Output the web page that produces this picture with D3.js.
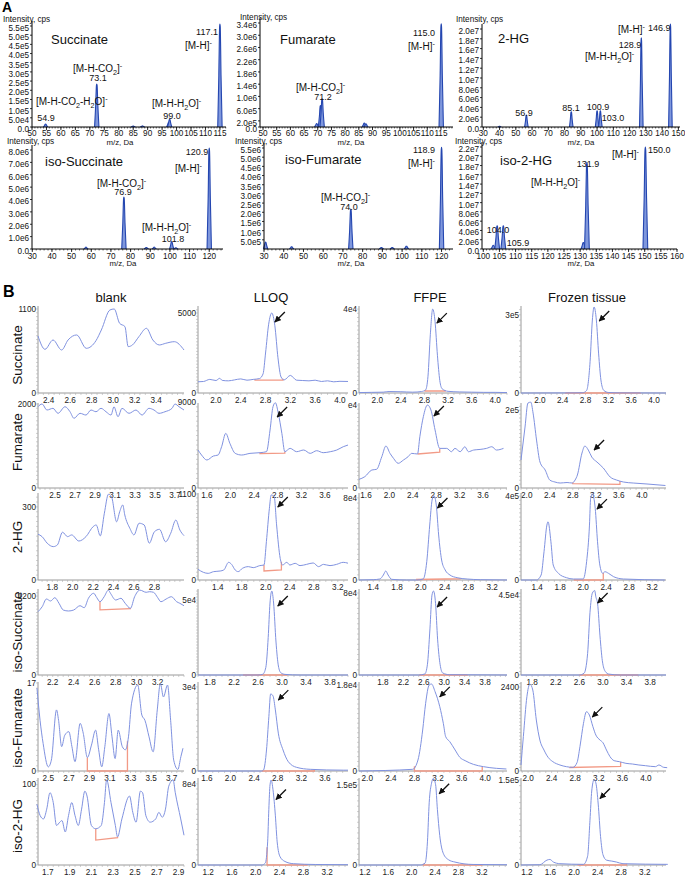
<!DOCTYPE html>
<html><head><meta charset="utf-8">
<script src="https://cdn.jsdelivr.net/npm/d3@7/dist/d3.min.js"></script>
<style>html,body{margin:0;padding:0;background:#fff;}svg{display:block;font-family:"Liberation Sans",Arial,sans-serif;}</style>
</head><body>
<svg id="fig" width="685" height="876" xmlns="http://www.w3.org/2000/svg"></svg>
<script>
// ===================== PANEL A DATA (MS/MS spectra) =====================
// [m/z position on axis, intensity (cps)]
const succinatePeaks = [[54.7,1.6e4],[72.4,2.34e5],[85.0,5e3],[88.2,6e3],[97.3,2.5e4],[97.6,4.2e4],[115.0,5.61e5]];
const fumaratePeaks  = [[69.6,1.1e5],[71.0,7.0e5],[71.6,9.2e5],[87.0,1.3e5],[87.6,1.0e5],[115.1,3.37e6]];
const hgPeaks        = [[40.0,1.5e5],[56.5,2.45e6],[84.1,3.1e6],[100.0,3.3e6],[102.0,3.3e6],[127.2,1.82e7],[145.1,2.1e7]];
const isoSuccPeaks   = [[57.3,1.5e5],[76.6,4.2e6],[88.0,1.2e5],[92.0,1.5e5],[100.9,6.0e5],[103.0,1.0e5],[120.0,8.15e6]];
const isoFumPeaks    = [[30.8,3.8e5],[44.0,1.2e5],[74.0,2.17e6],[89.5,8e4],[95.0,8e4],[102.2,1.5e5],[120.0,5.54e6]];
const isoHgPeaks     = [[103.1,8e5],[104.3,5.0e6],[106.2,5.0e6],[131.0,1.4e6],[132.1,1.87e7],[150.2,2.2e7]];

const succXTicks = [50,55,60,65,70,75,80,85,90,95,100,105,110,115];
const fumXTicks  = [50,55,60,65,70,75,80,85,90,95,100,105,110,115];
const hgXTicks   = [30,40,50,60,70,80,90,100,110,120,130,140,150];
const isoSuccXTicks = [30,40,50,60,70,80,90,100,110,120];
const isoFumXTicks  = [30,40,50,60,70,80,90,100,110,120];
const isoHgXTicks   = [100,105,110,115,120,125,130,135,140,145,150,155,160];

const succYTicks = [0,5e4,1e5,1.5e5,2e5,2.5e5,3e5,3.5e5,4e5,4.5e5,5e5,5.5e5];
const fumYTicks  = [0,2e5,6e5,1e6,1.4e6,1.8e6,2.2e6,2.6e6,3.0e6,3.4e6];
const hgYTicks   = [0,2e6,4e6,6e6,8e6,1e7,1.2e7,1.4e7,1.6e7,1.8e7,2e7];
const isoSuccYTicks = [0,1e6,2e6,3e6,4e6,5e6,6e6,7e6,8e6];
const isoFumYTicks  = [5e5,1e6,1.5e6,2e6,2.5e6,3e6,3.5e6,4e6,4.5e6,5e6,5.5e6];
const isoHgYTicks   = [0,2e6,4e6,6e6,8e6,1e7,1.2e7,1.4e7,1.6e7,1.8e7,2e7,2.2e7];

const msXDomains = [[50,117.1],[48.9,119.4],[29.2,151],[29.85,127],[30,125.8],[99.6,160]];
const msYMax = [5.5e5,3.4e6,2e7,8e6,5.5e6,2.2e7];

// annotation texts: [markup, x, y, size, anchor]  (_ = subscript, ^ = superscript)
const msAnnotations = [
 ["Succinate",51,44,13,"start"],["[M-H-CO_2]^-",73,72,10,"start"],["73.1",98,81,9,"middle"],
 ["[M-H-CO_2-H_2O]^-",36,105,10,"start"],["54.9",46,121,9,"middle"],["[M-H-H_2O]^-",152,107,10,"start"],
 ["99.0",172,119,9,"middle"],["117.1",207,35,9,"middle"],["[M-H]^-",185,49,10,"start"],
 ["Fumarate",280,44,13,"start"],["[M-H-CO_2]^-",296,91,10,"start"],["71.2",323,100,9,"middle"],
 ["115.0",424,36,9,"middle"],["[M-H]^-",408,50,10,"start"],
 ["2-HG",498,43,13,"start"],["56.9",524,116,9,"middle"],["85.1",571,111,9,"middle"],["100.9",598,110,9,"middle"],
 ["103.0",613,121,9,"middle"],["128.9",630,48,9,"middle"],["[M-H-H_2O]^-",585,60,10,"start"],
 ["[M-H]^-",618,33,10,"start"],["146.9",648,31,9,"start"],
 ["iso-Succinate",45,166,13,"start"],["[M-H-CO_2]^-",97,187,10,"start"],["76.9",123,195,9,"middle"],
 ["[M-H-H_2O]^-",142,231,10,"start"],["101.8",173,242,9,"middle"],["120.9",197,155,9,"middle"],["[M-H]^-",175,172,10,"start"],
 ["iso-Fumarate",285,164,13,"start"],["[M-H-CO_2]^-",321,201,10,"start"],["74.0",349,210,9,"middle"],
 ["118.9",424,153,9,"middle"],["[M-H]^-",408,167,10,"start"],
 ["iso-2-HG",500,165,13,"start"],["104.0",498,233,9,"middle"],["105.9",518,246,9,"middle"],["131.9",588,167,9,"middle"],
 ["[M-H-H_2O]^-",531,186,10,"start"],["[M-H]^-",612,158,10,"start"],["150.0",648,153,9,"start"]
];

// ===================== PANEL B DATA (chromatograms) =====================
const rowNames = ["Succinate","Fumarate","2-HG","iso-Succinate","iso-Fumarate","iso-2-HG"];
const colNames = ["blank","LLOQ","FFPE","Frozen tissue"];

// [retention time (min), intensity]
const succ_blank = [[2.30,747],[2.365,572],[2.44,694],[2.52,563],[2.58,694],[2.66,760],[2.75,585],[2.84,685],[2.89,825],[2.97,1087],[3.01,1100],[3.06,913],[3.11,869],[3.14,607],[3.18,629],[3.24,738],[3.31,847],[3.37,694],[3.43,629],[3.49,651],[3.57,672],[3.66,563]];
const succ_lloq = [[1.71,700],[1.80,720],[1.90,850],[2.0,780],[2.06,917],[2.1,790],[2.2,760],[2.3,820],[2.4,880],[2.5,800],[2.6,850],[2.7,900],[2.76,1200],[2.80,2500],[2.85,4300],[2.90,5000],[2.95,4200],[3.00,2200],[3.05,1000],[3.10,820],[3.2,1100],[3.3,800],[3.4,780],[3.5,760],[3.6,800],[3.7,720],[3.8,760],[3.9,700],[4.0,730],[4.13,720]];
const succ_ffpe = [[1.69,200],[1.9,300],[2.1,400],[2.2,700],[2.4,600],[2.6,400],[2.75,700],[2.82,1500],[2.86,8000],[2.90,28000],[2.94,40000],[2.98,34000],[3.02,18000],[3.06,6000],[3.10,2000],[3.2,800],[3.4,500],[3.6,400],[3.8,300],[4.0,300],[4.2,200]];
const succ_frozen = [[1.67,0],[2.6,500],[2.75,1000],[2.82,10000],[2.88,120000],[2.92,280000],[2.95,330000],[2.99,280000],[3.03,150000],[3.07,50000],[3.12,10000],[3.2,2000],[3.4,500],[4.21,0]];

const fum_blank = [[2.33,1935],[2.37,2000],[2.42,1857],[2.48,1897],[2.53,1778],[2.60,1935],[2.65,1816],[2.69,1659],[2.75,1778],[2.81,1737],[2.86,1857],[2.91,1816],[2.96,1897],[3.01,1816],[3.06,1737],[3.09,1935],[3.13,1697],[3.17,1897],[3.24,1778],[3.31,1857],[3.37,1737],[3.44,1897],[3.49,1857],[3.54,1778],[3.60,1816],[3.67,1897],[3.70,2000],[3.74,1935],[3.79,1857]];
const fum_lloq = [[1.45,3979],[1.51,3455],[1.60,2932],[1.71,3350],[1.79,3455],[1.85,4327],[1.92,5723],[1.99,4676],[2.08,3629],[2.19,3455],[2.33,3629],[2.50,3699],[2.61,3804],[2.67,6073],[2.72,8516],[2.76,8935],[2.81,7817],[2.87,5723],[2.92,3804],[3.01,4153],[3.12,3804],[3.24,3979],[3.35,3629],[3.46,3909],[3.57,3699],[3.69,3804],[3.80,3979],[3.91,4327],[3.99,4500]];
const fum_ffpe = [[1.48,4176],[1.58,5462],[1.70,8676],[1.78,9000],[1.87,15100],[1.94,20244],[2.01,16700],[2.07,14300],[2.15,11900],[2.24,13500],[2.32,15100],[2.38,16700],[2.48,16400],[2.52,24700],[2.58,34400],[2.65,40000],[2.71,37600],[2.78,28000],[2.86,19100],[2.98,19100],[3.06,17500],[3.12,19100],[3.21,17500],[3.29,19900],[3.35,17500],[3.44,18300],[3.55,18600],[3.66,19100],[3.75,19900],[3.83,18300],[3.95,19100]];
const fum_frozen = [[1.90,71900],[1.97,156700],[2.02,218300],[2.07,220800],[2.11,192600],[2.17,123300],[2.23,66800],[2.32,46200],[2.40,20500],[2.49,15400],[2.58,12800],[2.70,14100],[2.79,12800],[2.84,20500],[2.88,33400],[2.96,89900],[3.01,107900],[3.07,97600],[3.13,79600],[3.22,66800],[3.33,51400],[3.45,28200],[3.56,20500],[3.68,15400],[3.85,12800],[4.09,10300],[4.41,6400]];

const hg_blank = [[1.66,188],[1.70,178],[1.75,151],[1.81,137],[1.85,144],[1.90,196],[1.95,178],[1.99,185],[2.06,160],[2.13,178],[2.20,219],[2.23,226],[2.27,181],[2.31,274],[2.35,352],[2.38,342],[2.43,239],[2.46,280],[2.49,308],[2.51,267],[2.56,212],[2.60,185],[2.65,233],[2.70,226],[2.75,151],[2.80,198],[2.85,208],[2.91,157],[2.96,192],[3.01,246],[3.05,205],[3.09,182]];
const hg_lloq = [[1.07,137],[1.16,98],[1.24,85],[1.33,107],[1.44,115],[1.50,128],[1.58,226],[1.63,200],[1.69,128],[1.74,107],[1.81,149],[1.91,171],[1.99,158],[2.10,184],[2.17,192],[2.21,491],[2.26,917],[2.29,1088],[2.34,1067],[2.38,704],[2.44,277],[2.48,192],[2.55,226],[2.60,192],[2.69,213],[2.77,184],[2.88,200],[2.99,218],[3.08,171],[3.16,200],[3.27,184],[3.38,200],[3.49,226],[3.57,215]];
const hg_ffpe = [[1.16,0],[1.40,300],[1.51,975],[1.57,4875],[1.61,8775],[1.65,4875],[1.71,650],[1.96,0],[2.13,0],[2.24,975],[2.30,17900],[2.35,53600],[2.39,78000],[2.42,82200],[2.46,73100],[2.50,43900],[2.55,19500],[2.61,9750],[2.69,4875],[2.81,2250],[2.98,975],[3.20,300],[3.65,0]];
const hg_frozen = [[1.12,0],[1.39,0],[1.47,23800],[1.52,134800],[1.57,261900],[1.59,277600],[1.64,182400],[1.68,71400],[1.77,31900],[1.91,11000],[2.03,4762],[2.20,4762],[2.26,87100],[2.31,261900],[2.33,389000],[2.36,410000],[2.41,341400],[2.45,182400],[2.49,71400],[2.54,31900],[2.58,39500],[2.64,31900],[2.73,15700],[2.90,4762],[3.62,0]];

const isucc_blank = [[2.06,962],[2.10,1038],[2.14,1155],[2.18,1125],[2.22,1175],[2.26,1090],[2.30,988],[2.35,973],[2.40,988],[2.46,1053],[2.50,1023],[2.54,1166],[2.59,1242],[2.62,1175],[2.65,1114],[2.69,1190],[2.73,1290],[2.75,1242],[2.80,1140],[2.85,1166],[2.89,1090],[2.94,1014],[2.98,1190],[3.03,1290],[3.09,1257],[3.12,1266],[3.16,1257],[3.20,1175],[3.23,1114],[3.28,1155],[3.33,1190],[3.38,1114],[3.41,1090],[3.45,1053]];
const isucc_lloq = [[1.6,0],[2.6,0],[2.68,500],[2.73,5000],[2.77,25000],[2.80,48000],[2.83,56000],[2.86,48000],[2.90,22000],[2.94,6000],[2.98,1500],[3.05,400],[3.3,0],[4.1,0]];
const isucc_ffpe = [[1.33,0],[2.5,0],[2.62,1000],[2.67,10000],[2.72,45000],[2.76,78000],[2.79,82000],[2.83,70000],[2.87,35000],[2.92,10000],[2.97,2000],[3.1,300],[4.23,0]];
const isucc_frozen = [[1.61,0],[2.6,0],[2.68,1000],[2.74,12000],[2.78,35000],[2.82,46000],[2.86,47500],[2.88,44000],[2.91,40000],[2.95,22000],[2.99,8000],[3.04,2000],[3.1,500],[3.3,0],[4.07,0]];

const ifum_blank = [[2.39,16.0],[2.42,9.8],[2.45,5.3],[2.50,0.8],[2.53,2.1],[2.58,11.8],[2.60,9.8],[2.63,4.7],[2.66,6.9],[2.70,7.6],[2.73,4.7],[2.76,1.8],[2.81,9.2],[2.84,7.3],[2.88,2.6],[2.92,5.0],[2.96,7.9],[2.99,4.1],[3.02,0.8],[3.05,4.7],[3.09,11.1],[3.12,6.6],[3.15,2.4],[3.18,7.9],[3.22,4.7],[3.25,4.1],[3.28,6.6],[3.31,13.1],[3.37,16.6],[3.41,10.8],[3.44,9.8],[3.48,6.6],[3.52,3.7],[3.56,11.8],[3.59,16.9],[3.62,14.3],[3.66,16.6],[3.69,9.8],[3.72,2.1],[3.76,0.3],[3.79,2.8],[3.81,4.4]];
const ifum_lloq = [[1.45,0],[2.53,0],[2.56,357],[2.61,7500],[2.65,19400],[2.68,27500],[2.72,26800],[2.76,21800],[2.81,13500],[2.89,7500],[2.98,3300],[3.12,1300],[3.35,600],[3.91,300],[3.99,300]];
const ifum_ffpe = [[1.86,0],[2.77,350],[2.86,2300],[2.94,8570],[2.99,14150],[3.05,17980],[3.09,18190],[3.15,16590],[3.23,13450],[3.29,9970],[3.33,7180],[3.40,6130],[3.49,4390],[3.57,2860],[3.66,2160],[3.80,1390],[3.97,906],[4.19,558],[4.36,418]];
const ifum_frozen = [[1.88,172],[1.92,982],[1.98,2125],[2.03,2487],[2.08,2316],[2.14,1458],[2.20,886],[2.27,600],[2.34,391],[2.42,267],[2.54,172],[2.65,124],[2.76,105],[2.83,238],[2.88,696],[2.94,1363],[2.99,1696],[3.04,1601],[3.10,1267],[3.15,1029],[3.22,886],[3.27,810],[3.33,600],[3.39,410],[3.46,295],[3.55,267],[3.66,219],[3.77,200],[3.88,172],[3.99,152],[4.16,124],[4.22,172],[4.30,105],[4.36,95]];

const i2hg_blank = [[1.60,75.6],[1.63,61.4],[1.66,57.3],[1.69,69.5],[1.72,89.9],[1.75,77.7],[1.78,49.2],[1.81,53.3],[1.83,55.3],[1.86,41.1],[1.89,61.4],[1.92,77.7],[1.95,61.4],[1.98,49.2],[2.01,69.5],[2.04,91.9],[2.06,85.8],[2.10,49.2],[2.14,45.1],[2.19,49.2],[2.22,77.7],[2.24,106],[2.28,77.7],[2.32,49.2],[2.34,35.0],[2.38,57.3],[2.45,85.8],[2.48,65.5],[2.51,53.3],[2.55,91.9],[2.57,89.9],[2.60,61.4],[2.64,53.3],[2.69,57.3],[2.72,65.5],[2.75,59.4],[2.78,69.5],[2.81,98.0],[2.85,106],[2.87,89.9],[2.92,57.3],[2.95,37.0]];
const i2hg_lloq = [[1.03,0],[2.10,0],[2.16,1900],[2.20,22800],[2.22,54900],[2.24,79000],[2.26,83800],[2.29,74200],[2.33,48500],[2.36,22800],[2.41,8000],[2.49,3500],[2.63,1300],[3.0,500],[3.55,300]];
const i2hg_ffpe = [[1.10,0],[2.15,0],[2.23,3660],[2.27,43300],[2.30,116500],[2.34,153100],[2.37,162300],[2.41,150100],[2.44,104300],[2.48,55500],[2.54,22000],[2.63,9800],[2.74,5500],[3.05,1000],[3.63,500]];
const i2hg_frozen = [[1.10,0],[1.42,500],[1.54,8600],[1.59,9800],[1.65,5200],[1.76,2300],[2.16,1150],[2.23,15500],[2.27,78800],[2.30,130500],[2.34,150700],[2.37,144900],[2.41,107500],[2.45,50000],[2.49,18400],[2.55,8600],[2.64,6900],[2.72,5200],[2.83,2300],[3.59,1150]];

const chromXDomains = [
 [[2.30,3.66],[1.71,4.13],[1.69,4.20],[1.67,4.21]],
 [[2.33,3.79],[1.45,3.99],[1.48,4.01],[1.90,4.42]],
 [[1.66,3.09],[1.07,3.57],[1.16,3.65],[1.12,3.64]],
 [[2.06,3.45],[1.60,4.10],[1.33,4.23],[1.61,4.07]],
 [[2.40,3.82],[1.45,3.99],[1.86,4.37],[1.88,4.34]],
 [[1.61,2.95],[1.03,3.55],[1.10,3.63],[1.10,3.56]]
];
const chromYMax = [
 [1126,5375,41000,330000],
 [2000,8800,40500,216000],
 [353,1100,83850,410000],
 [1292,56700,83000,47800],
 [17,31400,18400,2517],
 [107,84800,161000,151700]
];
const chromYLabelVal = [[1100,5000,40000,300000],[2000,9000,40000,200000],[300,1100,80000,400000],[1200,50000,80000,45000],[17,30000,18000,2400],[100,80000,150000,150000]];
const chromYLabelTxt = [["1100","5000","4e4","3e5"],["2000","9000","e4","2e5"],["300","1100","8e4","4e5"],["1200","5e4","8e4","4.5e4"],["17","3e4","1.8e4","2400"],["100","8e4","1.5e5","1.5e5"]];
const chromXTicks = [
 [[2.4,2.6,2.8,3.0,3.2,3.4],[2.0,2.4,2.8,3.2,3.6,4.0],[2.0,2.4,2.8,3.2,3.6,4.0],[2.0,2.4,2.8,3.2,3.6,4.0]],
 [[2.5,2.7,2.9,3.1,3.3,3.5,3.7],[1.6,2.0,2.4,2.8,3.2,3.6],[1.6,2.0,2.4,2.8,3.2,3.6],[2.0,2.4,2.8,3.2,3.6,4.0]],
 [[1.8,2.0,2.2,2.4,2.6,2.8],[1.4,1.8,2.2,2.6,3.0,3.4],[1.4,1.8,2.2,2.6,3.0,3.4],[1.4,1.8,2.2,2.6,3.0,3.4]],
 [[2.2,2.4,2.6,2.8,3.0,3.2],[1.8,2.2,2.6,3.0,3.4,3.8],[1.8,2.2,2.6,3.0,3.4,3.8],[1.8,2.2,2.6,3.0,3.4,3.8]],
 [[2.5,2.7,2.9,3.1,3.3,3.5,3.7],[1.6,2.0,2.4,2.8,3.2,3.6],[2.0,2.4,2.8,3.2,3.6,4.0],[2.0,2.4,2.8,3.2,3.6,4.0]],
 [[1.7,1.9,2.1,2.3,2.5,2.7,2.9],[1.2,1.6,2.0,2.4,2.8,3.2],[1.2,1.6,2.0,2.4,2.8,3.2],[1.2,1.6,2.0,2.4,2.8,3.2]]
];
// tick labels as printed by the software on the 2-HG row (LLOQ, FFPE, Frozen)
const hgRowTickLabels = ["1.4","1.8","2.0","2.4","2.8","3.2"];
// integration baselines [t1, level1, t2, level2]
const chromBaselines = [
 [null,[2.63,800,3.08,810],[2.81,950,3.15,950],[2.45,0,3.76,0]],
 [null,[2.50,3600,2.92,3650],[2.48,16400,2.86,17300],[2.80,11000,3.62,9500]],
 [null,[2.17,115,2.46,128],[2.13,500,2.86,1200],[2.05,0,2.55,0]],
 [[2.65,990,2.94,1010],[2.35,0,3.08,0],[2.52,0,3.45,0],[2.60,0,3.60,0]],
 [[2.88,0,3.27,0],[2.53,0,3.42,0],[2.80,0,3.95,0],[2.71,100,3.57,130]],
 [[2.14,31,2.34,34],[2.19,0,2.86,0],[2.20,0,3.20,0],[2.07,0,2.89,0]]
];
// arrow tips [t, intensity]
const arrowTips = [
 [null,[2.95,4440],[3.01,33300],[3.04,276000]],
 [null,[2.79,7430],[2.76,34700],[3.17,97600]],
 [null,[2.40,934],[2.48,70200],[2.44,338000]],
 [null,[2.93,46000],[2.86,66400],[2.91,40500]],
 [null,[2.81,25300],[3.23,15500],[3.09,1540]],
 [null,[2.34,64600],[2.47,133500],[2.44,117200]]
];
const chromTraces = [
 [succ_blank,succ_lloq,succ_ffpe,succ_frozen],
 [fum_blank,fum_lloq,fum_ffpe,fum_frozen],
 [hg_blank,hg_lloq,hg_ffpe,hg_frozen],
 [isucc_blank,isucc_lloq,isucc_ffpe,isucc_frozen],
 [ifum_blank,ifum_lloq,ifum_ffpe,ifum_frozen],
 [i2hg_blank,i2hg_lloq,i2hg_ffpe,i2hg_frozen]
];

// ===================== LAYOUT / STYLE =====================
const svg = d3.select("#fig");
const msLayout = [
 {xr:[32,226], base:127, top:26, hw:2.2, tx:3,   ty:22,  mzx:120, mzy:144.5, xly:136, peaks:succinatePeaks, xt:succXTicks, yt:succYTicks},
 {xr:[260,453],base:127, top:23, hw:2.2, tx:240, ty:20,  mzx:351, mzy:144.5, xly:136, peaks:fumaratePeaks,  xt:fumXTicks,  yt:fumYTicks},
 {xr:[482,680],base:127, top:29, hw:1.8, tx:456, ty:22,  mzx:581, mzy:144.5, xly:136, peaks:hgPeaks,        xt:hgXTicks,   yt:hgYTicks},
 {xr:[32,223], base:249, top:150,hw:2.2, tx:7,   ty:144, mzx:123, mzy:266, xly:258.5, peaks:isoSuccPeaks,   xt:isoSuccXTicks, yt:isoSuccYTicks},
 {xr:[264,453],base:249, top:148,hw:2.2, tx:235, ty:144, mzx:351, mzy:266, xly:258.5, peaks:isoFumPeaks,    xt:isoFumXTicks,  yt:isoFumYTicks},
 {xr:[482,677],base:249, top:147,hw:2.4, tx:455, ty:144, mzx:581, mzy:266, xly:258.5, peaks:isoHgPeaks,     xt:isoHgXTicks,   yt:isoHgYTicks}
];
const colX = [[38,184],[198,348],[359,507],[521,666]];
const rowY = [[307,393],[404,488],[494,580],[590,675],[683,771],[779,865]];
const colHeadX = [111,271,430,587];
const rowLabelY = [355,442,537,632,728,826];

function sciFmt(v){
  if (v === 0) return "0.0";
  const e = Math.floor(Math.log10(v) + 1e-9);
  return (v / Math.pow(10, e)).toFixed(1) + "e" + e;
}
function rich(g, str, x, y, fs, anchor){
  const t = g.append("text").attr("x",x).attr("y",y).attr("font-size",fs)
    .attr("text-anchor",anchor||"start").attr("fill","#111");
  let buf = "", pend = 0;
  const add = (txt, size, dy) => {
    const s = t.append("tspan").text(txt);
    if (size) s.attr("font-size", size);
    const d = dy + pend; if (d) s.attr("dy", d); pend = 0;
  };
  const flush = () => { if (buf) { add(buf, null, 0); buf = ""; } };
  for (let i = 0; i < str.length; i++){
    const c = str[i];
    if (c === "_" || c === "^"){
      flush();
      const ch = str[++i];
      if (c === "_"){ add(ch, fs*0.72, fs*0.3); pend = -fs*0.3; }
      else { add(ch, fs*0.72, -fs*0.42); pend = fs*0.42; }
    } else buf += c;
  }
  flush();
}

svg.append("text").attr("x",2).attr("y",12).attr("font-size",14).attr("font-weight","bold").text("A");
svg.append("text").attr("x",3).attr("y",297).attr("font-size",16).attr("font-weight","bold").text("B");

// ---------- Panel A ----------
msLayout.forEach((L, i) => {
  const g = svg.append("g");
  const x = d3.scaleLinear().domain(msXDomains[i]).range(L.xr);
  const y = d3.scaleLinear().domain([0, msYMax[i]]).range([L.base, L.top]);
  const line = d3.line().curve(d3.curveMonotoneX);
  L.peaks.forEach(([mz, I]) => {
    const px = x(mz), py = y(I), h = L.base - py, w = L.hw;
    const pts = [[px-w,L.base],[px-w*0.5,L.base-h*0.5],[px-w*0.15,py+h*0.03],[px,py],[px+w*0.15,py+h*0.03],[px+w*0.5,L.base-h*0.5],[px+w,L.base]];
    g.append("path").attr("d", line(pts)).attr("fill","#7f97dc").attr("stroke","#2446b0").attr("stroke-width",1.1);
  });
  g.append("line").attr("x1",L.xr[0]).attr("x2",L.xr[0]).attr("y1",L.base).attr("y2",L.top-5).attr("stroke","#000").attr("stroke-width",1);
  g.append("line").attr("x1",L.xr[0]).attr("x2",L.xr[1]).attr("y1",L.base).attr("y2",L.base).attr("stroke","#000").attr("stroke-width",1);
  x.ticks(60).forEach(v => {
    g.append("line").attr("x1",x(v)).attr("x2",x(v)).attr("y1",L.base).attr("y2",L.base+1.5).attr("stroke","#000").attr("stroke-width",0.6);
  });
  L.xt.forEach(v => {
    g.append("line").attr("x1",x(v)).attr("x2",x(v)).attr("y1",L.base).attr("y2",L.base+3).attr("stroke","#000").attr("stroke-width",0.8);
    g.append("text").attr("x",x(v)).attr("y",L.xly).attr("font-size",8.2).attr("text-anchor","middle").attr("fill","#111").text(v);
  });
  L.yt.forEach(v => {
    g.append("line").attr("x1",L.xr[0]-2).attr("x2",L.xr[0]).attr("y1",y(v)).attr("y2",y(v)).attr("stroke","#000").attr("stroke-width",0.8);
    g.append("text").attr("x",L.xr[0]-3).attr("y",y(v)+2).attr("dy","0.35em").attr("font-size",8.2).attr("text-anchor","end").attr("fill","#111").text(sciFmt(v));
  });
  g.append("text").attr("x",L.tx).attr("y",L.ty).attr("font-size",8.2).attr("fill","#111").text("Intensity, cps");
  g.append("text").attr("x",L.mzx).attr("y",L.mzy).attr("font-size",7.8).attr("text-anchor","middle").attr("fill","#111").text("m/z, Da");
});
const annG = svg.append("g");
msAnnotations.forEach(a => rich(annG, a[0], a[1], a[2], a[3], a[4]));

// ---------- Panel B ----------
colNames.forEach((n, c) => {
  svg.append("text").attr("x",colHeadX[c]).attr("y",302).attr("font-size",13).attr("text-anchor","middle").attr("fill","#111").text(n);
});
rowNames.forEach((n, r) => {
  svg.append("text").attr("transform",`translate(22,${rowLabelY[r]}) rotate(-90)`).attr("font-size",13.5)
    .attr("text-anchor","middle").attr("fill","#111").text(n);
});

function interp(tr, t){
  if (t <= tr[0][0]) return tr[0][1];
  for (let k = 1; k < tr.length; k++){
    if (t <= tr[k][0]){
      const [t0,v0] = tr[k-1], [t1,v1] = tr[k];
      return v0 + (v1 - v0) * (t - t0) / (t1 - t0);
    }
  }
  return tr[tr.length-1][1];
}

const defs = svg.append("defs");
defs.append("marker").attr("id","ah").attr("viewBox","0 0 10 10").attr("refX",9).attr("refY",5)
  .attr("markerWidth",5).attr("markerHeight",5).attr("orient","auto")
  .append("path").attr("d","M0,0L10,5L0,10z").attr("fill","#111");

for (let r = 0; r < 6; r++){
  for (let c = 0; c < 4; c++){
    const g = svg.append("g");
    const [x0,x1] = colX[c], [top,base] = rowY[r];
    const x = d3.scaleLinear().domain(chromXDomains[r][c]).range([x0,x1]);
    const y = d3.scaleLinear().domain([0, chromYMax[r][c]]).range([base, top]);
    g.append("line").attr("x1",x0).attr("x2",x0).attr("y1",base).attr("y2",top-1).attr("stroke","#9a9a9a").attr("stroke-width",1);
    g.append("line").attr("x1",x0).attr("x2",x1).attr("y1",base).attr("y2",base).attr("stroke","#9a9a9a").attr("stroke-width",1);
    y.ticks(20).forEach(v => {
      g.append("line").attr("x1",x0-2).attr("x2",x0).attr("y1",y(v)).attr("y2",y(v)).attr("stroke","#b0b0b0").attr("stroke-width",0.6);
    });
    x.ticks(25).forEach(v => {
      g.append("line").attr("x1",x(v)).attr("x2",x(v)).attr("y1",base).attr("y2",base+2).attr("stroke","#b0b0b0").attr("stroke-width",0.6);
    });
    chromXTicks[r][c].forEach((v, k) => {
      const lab = (r === 2 && c > 0) ? hgRowTickLabels[k] : v.toFixed(1);
      g.append("text").attr("x",x(v)).attr("y",base+9.5).attr("font-size",8.2).attr("text-anchor","middle").attr("fill","#222").text(lab);
    });
    g.append("text").attr("x",x0-2).attr("y",y(0)).attr("dy","0.35em").attr("font-size",8.2).attr("text-anchor","end").attr("fill","#222").text("0");
    g.append("text").attr("x",x0-2).attr("y",y(chromYLabelVal[r][c])).attr("dy","0.35em").attr("font-size",8.2).attr("text-anchor","end").attr("fill","#222").text(chromYLabelTxt[r][c]);
    const tr = chromTraces[r][c];
    const ln = d3.line().x(d => x(d[0])).y(d => y(d[1])).curve(d3.curveMonotoneX);
    const seg = chromBaselines[r][c];
    if (seg){
      const [t1,b1,t2,b2] = seg;
      const p = d3.path();
      p.moveTo(x(t1), y(interp(tr,t1)));
      p.lineTo(x(t1), y(b1));
      p.lineTo(x(t2), y(b2));
      p.lineTo(x(t2), y(interp(tr,t2)));
      g.append("path").attr("d", p.toString()).attr("fill","none").attr("stroke","#f29a86").attr("stroke-width",1.3);
    }
    g.append("path").attr("d", ln(tr)).attr("fill","none").attr("stroke","#8092e0").attr("stroke-width",1);
    const a = arrowTips[r][c];
    if (a){
      const tx = x(a[0]), ty = y(a[1]);
      g.append("line").attr("x1",tx+10).attr("y1",ty-10).attr("x2",tx).attr("y2",ty)
        .attr("stroke","#111").attr("stroke-width",1.3).attr("marker-end","url(#ah)");
    }
  }
}
</script>
</body></html>
